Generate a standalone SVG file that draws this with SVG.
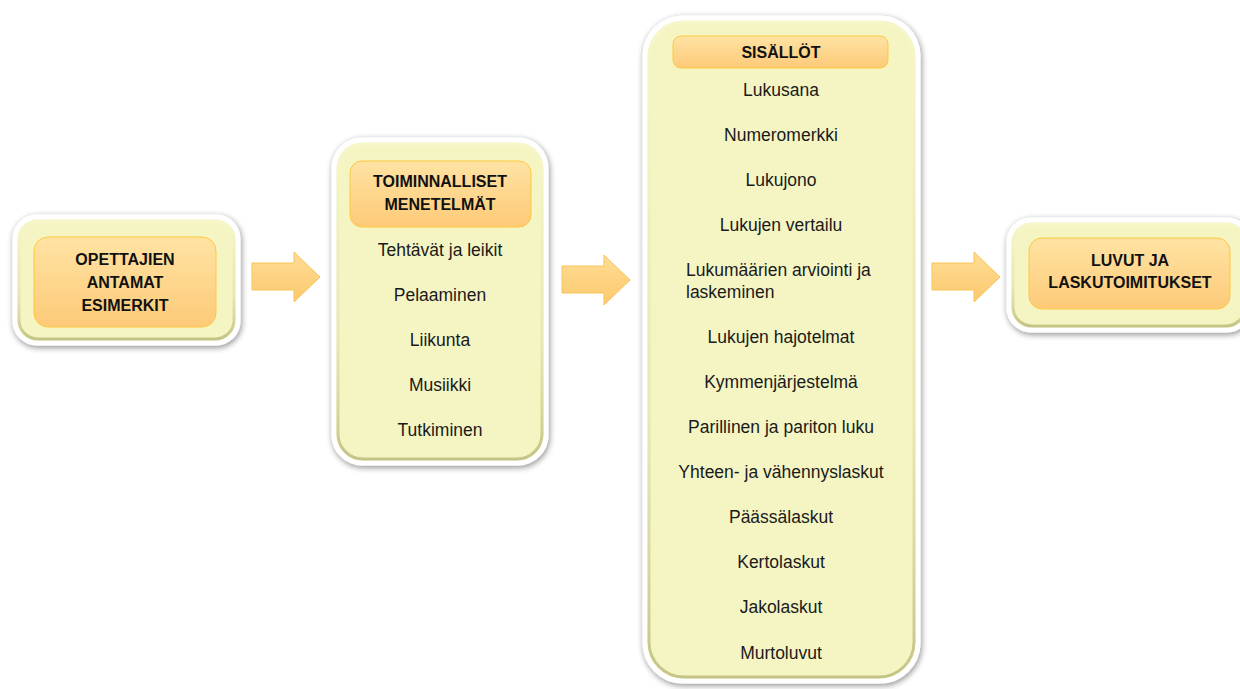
<svg xmlns="http://www.w3.org/2000/svg" width="1240" height="689" viewBox="0 0 1240 689">
<defs>
<filter id="sh" x="-10%" y="-10%" width="120%" height="120%">
<feGaussianBlur in="SourceAlpha" stdDeviation="3"/>
<feOffset dx="1" dy="2" result="b"/>
<feComponentTransfer><feFuncA type="linear" slope="0.45"/></feComponentTransfer>
<feMerge><feMergeNode/><feMergeNode in="SourceGraphic"/></feMerge>
</filter>
<linearGradient id="bev" x1="0" y1="0" x2="0" y2="1">
<stop offset="0" stop-color="#f8f8d0" stop-opacity="0.6"/>
<stop offset="0.6" stop-color="#d9d9a0" stop-opacity="0.45"/>
<stop offset="1" stop-color="#b8b878" stop-opacity="0.8"/>
</linearGradient>
<linearGradient id="org" x1="0" y1="0" x2="0" y2="1">
<stop offset="0" stop-color="#ffe3a3"/>
<stop offset="1" stop-color="#fdca78"/>
</linearGradient>
<linearGradient id="arr" x1="0" y1="0" x2="0" y2="1">
<stop offset="0" stop-color="#fedd95"/>
<stop offset="1" stop-color="#fcc96e"/>
</linearGradient>
<style>
.outer{fill:#f5f5c4;stroke:#ffffff;stroke-width:5;filter:url(#sh)}
.bevel{fill:none;stroke:url(#bev);stroke-width:3}
.hdr{fill:url(#org);stroke:#ffc83d;stroke-width:1}
.arrow{fill:url(#arr);stroke:#f7c45a;stroke-width:1}
.t{font-family:"Liberation Sans",Arial,sans-serif;font-size:17.5px;fill:#1a1a1a;text-anchor:middle}
.l{text-anchor:start}
.h{font-family:"Liberation Sans",Arial,sans-serif;font-size:16px;font-weight:bold;fill:#111;text-anchor:middle}
</style>
</defs>
<rect width="1240" height="689" fill="#ffffff"/>

<g id="connectors">
<path class="arrow" d="M252,263 H294 V252 L320,277 L294,302 V290 H252 Z"/>
<path class="arrow" d="M562,266 H604 V255 L630,280 L604,305 V293 H562 Z"/>
<path class="arrow" d="M932,263 H974 V252 L1000,277 L974,302 V290 H932 Z"/>
</g>

<g id="node1">
<rect class="outer" x="15" y="217" width="223" height="126" rx="22"/>
<rect class="bevel" x="19" y="221" width="215" height="118" rx="19"/>
<rect class="hdr" x="34" y="237" width="182" height="90" rx="14"/>
<text class="h" x="125" y="265">OPETTAJIEN</text>
<text class="h" x="125" y="288">ANTAMAT</text>
<text class="h" x="125" y="311">ESIMERKIT</text>
</g>

<g id="node2">
<rect class="outer" x="334" y="140" width="212" height="323" rx="28"/>
<rect class="bevel" x="338" y="144" width="204" height="315" rx="25"/>
<rect class="hdr" x="350" y="161" width="181" height="66" rx="12"/>
<text class="h" x="440" y="187">TOIMINNALLISET</text>
<text class="h" x="440" y="210">MENETELMÄT</text>
<text class="t" x="440" y="256">Tehtävät ja leikit</text>
<text class="t" x="440" y="301">Pelaaminen</text>
<text class="t" x="440" y="346">Liikunta</text>
<text class="t" x="440" y="391">Musiikki</text>
<text class="t" x="440" y="436">Tutkiminen</text>
</g>

<g id="node3">
<rect class="outer" x="645" y="18" width="273" height="663" rx="38"/>
<rect class="bevel" x="649" y="22" width="265" height="655" rx="35"/>
<rect class="hdr" x="673" y="36" width="215" height="32" rx="8"/>
<text class="h" x="781" y="58">SISÄLLÖT</text>
<text class="t" x="781" y="96">Lukusana</text>
<text class="t" x="781" y="141">Numeromerkki</text>
<text class="t" x="781" y="186">Lukujono</text>
<text class="t" x="781" y="231">Lukujen vertailu</text>
<text class="t l" x="686" y="276">Lukumäärien arviointi ja</text>
<text class="t l" x="686" y="298">laskeminen</text>
<text class="t" x="781" y="343">Lukujen hajotelmat</text>
<text class="t" x="781" y="388">Kymmenjärjestelmä</text>
<text class="t" x="781" y="433">Parillinen ja pariton luku</text>
<text class="t" x="781" y="478">Yhteen- ja vähennyslaskut</text>
<text class="t" x="781" y="523">Päässälaskut</text>
<text class="t" x="781" y="568">Kertolaskut</text>
<text class="t" x="781" y="613">Jakolaskut</text>
<text class="t" x="781" y="659">Murtoluvut</text>
</g>

<g id="node4">
<rect class="outer" x="1009" y="220" width="240" height="110" rx="22"/>
<rect class="bevel" x="1013" y="224" width="232" height="102" rx="19"/>
<rect class="hdr" x="1029" y="238" width="201" height="71" rx="13"/>
<text class="h" x="1130" y="266">LUVUT JA</text>
<text class="h" x="1130" y="288">LASKUTOIMITUKSET</text>
</g>
</svg>
